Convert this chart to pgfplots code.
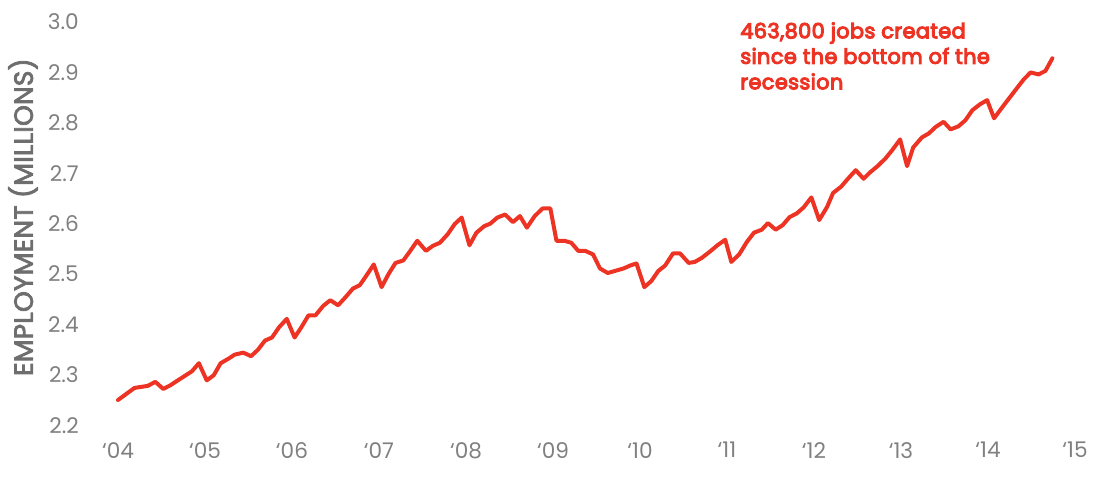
\documentclass[border=0pt]{standalone}
\usepackage{fontspec}
\setmainfont{Poppins}
\newfontfamily\medfont{Poppins}[FakeBold=5, LetterSpace=2]
\newfontfamily\labfont{Poppins}[FakeBold=3, LetterSpace=1]
\usepackage{pgfplots}
\pgfplotsset{compat=1.18}

\definecolor{jobred}{RGB}{237,52,36}
\definecolor{ticktext}{RGB}{128,128,128}
\definecolor{labeltext}{RGB}{110,110,110}

\begin{document}
\begin{tikzpicture}
\begin{axis}[
  x=43.5pt, y=252pt,
  xmin=2003.63, xmax=2015.2,
  ymin=2.2, ymax=3.0,
  axis line style={draw=none},
  major tick length=0pt,
  xtick={2004,2005,2006,2007,2008,2009,2010,2011,2012,2013,2014,2015},
  xticklabels={‘04,‘05,‘06,‘07,‘08,‘09,‘10,‘11,‘12,‘13,‘14,‘15},
  ytick={2.2,2.3,2.4,2.5,2.6,2.7,2.8,2.9,3.0},
  yticklabel style={/pgf/number format/.cd, fixed, fixed zerofill, precision=1, assume math mode=true},
  tick label style={font=\fontsize{10.8}{12}\selectfont, text=ticktext},
  xticklabel style={yshift=-5pt},
  ylabel={EMPLOYMENT (MILLIONS)},
  every axis y label/.style={at={(axis description cs:-0.0624,0.516)}, rotate=90, anchor=center},
  ylabel style={font=\labfont\fontsize{13.2}{15}\selectfont, text=labeltext},
  clip=false,
]
\addplot[jobred, line width=2pt, line join=round, line cap=round] coordinates {
(2004.00,2.250) (2004.19,2.274) (2004.34,2.278) (2004.43,2.286) (2004.52,2.272)
(2004.60,2.279) (2004.67,2.287) (2004.85,2.307) (2004.93,2.323) (2005.02,2.289)
(2005.10,2.299) (2005.18,2.323) (2005.27,2.332) (2005.34,2.340) (2005.44,2.344)
(2005.53,2.337) (2005.61,2.350) (2005.69,2.368) (2005.77,2.374) (2005.85,2.394)
(2005.94,2.411) (2006.03,2.374) (2006.11,2.395) (2006.19,2.418) (2006.27,2.418)
(2006.36,2.437) (2006.44,2.448) (2006.53,2.438) (2006.61,2.453) (2006.70,2.471)
(2006.78,2.478) (2006.86,2.498) (2006.94,2.519) (2007.03,2.474) (2007.11,2.500)
(2007.19,2.522) (2007.28,2.527) (2007.36,2.546) (2007.44,2.566) (2007.54,2.546)
(2007.62,2.556) (2007.70,2.562) (2007.79,2.579) (2007.87,2.599) (2007.95,2.612)
(2008.04,2.557) (2008.12,2.582) (2008.21,2.595) (2008.28,2.600) (2008.36,2.612)
(2008.45,2.618) (2008.54,2.603) (2008.62,2.615) (2008.70,2.592) (2008.79,2.615)
(2008.88,2.630) (2008.97,2.630) (2009.04,2.566) (2009.13,2.566) (2009.21,2.562)
(2009.29,2.546) (2009.37,2.546) (2009.46,2.539) (2009.54,2.511) (2009.63,2.502)
(2009.71,2.506) (2009.81,2.511) (2009.89,2.517) (2009.96,2.521) (2010.05,2.474)
(2010.13,2.486) (2010.21,2.506) (2010.29,2.517) (2010.38,2.541) (2010.46,2.541)
(2010.56,2.522) (2010.63,2.524) (2010.71,2.532) (2010.80,2.544) (2010.89,2.557)
(2010.98,2.568) (2011.05,2.524) (2011.14,2.539) (2011.23,2.564) (2011.31,2.582)
(2011.40,2.588) (2011.47,2.601) (2011.56,2.588) (2011.64,2.597) (2011.72,2.613)
(2011.80,2.620) (2011.88,2.632) (2011.97,2.652) (2012.06,2.607) (2012.15,2.633)
(2012.22,2.661) (2012.31,2.673) (2012.39,2.689) (2012.48,2.706) (2012.57,2.689)
(2012.64,2.701) (2012.73,2.714) (2012.82,2.729) (2012.90,2.746) (2012.99,2.767)
(2013.07,2.714) (2013.14,2.751) (2013.24,2.771) (2013.32,2.779) (2013.40,2.792)
(2013.49,2.802) (2013.57,2.787) (2013.66,2.793) (2013.74,2.805) (2013.82,2.825)
(2013.91,2.837) (2013.99,2.845) (2014.07,2.809) (2014.16,2.830) (2014.24,2.848)
(2014.32,2.866) (2014.41,2.886) (2014.49,2.900) (2014.58,2.896) (2014.66,2.903)
(2014.74,2.928)
};

% annotation in the upper right
\node[anchor=north west, inner sep=0pt, align=left, text=jobred,
      font=\medfont\fontsize{10.4}{12.75}\selectfont]
  at (axis cs:2011.149,3.0) {463,800 jobs created\\since the bottom of the\\recession};

% page corners, matching the reference frame
\coordinate (bl) at (axis cs:2002.644,2.0988);
\coordinate (tr) at (axis cs:2015.345,3.0437);
\end{axis}
\pgfresetboundingbox
\path[use as bounding box] (bl) rectangle (tr);
\end{tikzpicture}
\end{document}
